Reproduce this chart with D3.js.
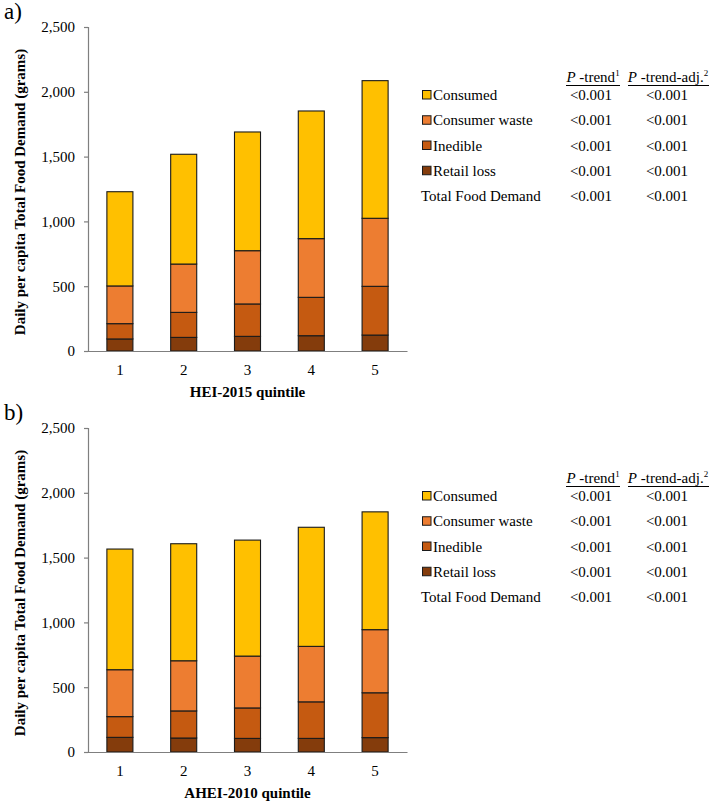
<!DOCTYPE html>
<html>
<head>
<meta charset="utf-8">
<script src="https://cdn.jsdelivr.net/npm/d3@7/dist/d3.min.js"></script>
<style>
  html, body { margin: 0; padding: 0; background: #fff; }
  svg { display: block; }
  text { font-family: "Liberation Serif", "Times New Roman", serif; fill: #000; }
</style>
</head>
<body>
<svg id="chart" width="709" height="801"></svg>
<script>
// ---- Data ----
const quintiles = ["1", "2", "3", "4", "5"];
const seriesNames = ["Retail loss", "Inedible", "Consumer waste", "Consumed"];
const legendOrder = ["Consumed", "Consumer waste", "Inedible", "Retail loss"];
const seriesColors = ["#843C0C", "#C55A11", "#ED7D31", "#FFC000"];
const yTicks = [0, 500, 1000, 1500, 2000, 2500];

// Panel a) HEI-2015 quintile
const heiRetailLoss    = [93, 105, 113, 118, 123];
const heiInedible      = [118, 193, 250, 296, 376];
const heiConsumerWaste = [291, 373, 411, 453, 525];
const heiConsumed      = [727, 847, 916, 985, 1062];

// Panel b) AHEI-2010 quintile
const aheiRetailLoss    = [113, 108, 105, 105, 111];
const aheiInedible      = [160, 209, 235, 282, 346];
const aheiConsumerWaste = [362, 387, 400, 428, 487];
const aheiConsumed      = [931, 903, 895, 919, 909];

// Legend table
const pTrendA    = ["<0.001", "<0.001", "<0.001", "<0.001", "<0.001"];
const pTrendAdjA = ["<0.001", "<0.001", "<0.001", "<0.001", "<0.001"];
const pTrendB    = ["<0.001", "<0.001", "<0.001", "<0.001", "<0.001"];
const pTrendAdjB = ["<0.001", "<0.001", "<0.001", "<0.001", "<0.001"];
const tableRows  = ["Consumed", "Consumer waste", "Inedible", "Retail loss", "Total Food Demand"];

const svg = d3.select("#chart");

function drawPanel(offsetY, panelLabel, xTitle, seriesArrays, pTrend, pTrendAdj) {
  const g = svg.append("g").attr("transform", `translate(0,${offsetY})`);
  const x0 = 88, x1 = 407, yTop = 27, yBot = 351;

  const rows = quintiles.map((q, i) => {
    const r = { q };
    seriesNames.forEach((s, k) => r[s] = seriesArrays[k][i]);
    return r;
  });
  const stacked = d3.stack().keys(seriesNames)(rows);

  const x = d3.scaleBand().domain(quintiles).range([x0, x1])
    .paddingInner(0.592).paddingOuter(0.296);
  const y = d3.scaleLinear().domain([0, 2500]).range([yBot, yTop]);

  // panel label
  g.append("text").attr("x", 4).attr("y", 19)
    .style("font-size", "23px").text(panelLabel);

  // bars
  g.selectAll("g.layer").data(stacked).join("g")
    .attr("class", "layer")
    .attr("fill", (d, i) => seriesColors[i])
    .selectAll("rect").data(d => d).join("rect")
    .attr("x", d => x(d.data.q))
    .attr("width", x.bandwidth())
    .attr("y", d => y(d[1]))
    .attr("height", d => y(d[0]) - y(d[1]))
    .attr("stroke", "#1a1a1a")
    .attr("stroke-width", 1.1);

  // y axis
  const yAxis = d3.axisLeft(y).tickValues(yTicks).tickSize(4).tickPadding(9)
    .tickFormat(d3.format(","));
  const ya = g.append("g").attr("transform", `translate(${x0},0)`).call(yAxis);
  ya.select(".domain").attr("stroke", "#7f7f7f").attr("stroke-width", 1.2);
  ya.selectAll(".tick line").attr("stroke", "#7f7f7f").attr("stroke-width", 1.2);
  ya.selectAll(".tick text").style("font-size", "15px")
    .style("font-family", "Liberation Serif").attr("fill", "#000");

  // x axis
  const xAxis = d3.axisBottom(x).tickSize(0).tickPadding(13).tickSizeOuter(0);
  const xa = g.append("g").attr("transform", `translate(0,${yBot})`).call(xAxis);
  xa.select(".domain").attr("stroke", "#7f7f7f").attr("stroke-width", 1.2);
  xa.selectAll(".tick text").style("font-size", "15px")
    .style("font-family", "Liberation Serif").attr("fill", "#000");

  // axis titles
  g.append("text").attr("x", (x0 + x1) / 2).attr("y", 397)
    .attr("text-anchor", "middle").style("font-size", "15px").style("font-weight", "bold")
    .text(xTitle);
  g.append("text")
    .attr("transform", `translate(25,${(yTop + yBot) / 2 + 3}) rotate(-90)`)
    .attr("text-anchor", "middle").style("font-size", "15px").style("font-weight", "bold")
    .text("Daily per capita Total Food Demand (grams)");

  // legend table
  const c1 = 593, c2 = 668;
  const hdrY = 82;
  const h1 = g.append("text").attr("x", c1).attr("y", hdrY).attr("text-anchor", "middle")
    .style("font-size", "15px");
  h1.append("tspan").style("font-style", "italic").text("P");
  h1.append("tspan").text(" -trend");
  h1.append("tspan").attr("dy", -6).style("font-size", "9px").text("1");
  const h2 = g.append("text").attr("x", c2).attr("y", hdrY).attr("text-anchor", "middle")
    .style("font-size", "15px");
  h2.append("tspan").style("font-style", "italic").text("P");
  h2.append("tspan").text(" -trend-adj.");
  h2.append("tspan").attr("dy", -6).style("font-size", "9px").text("2");
  g.append("line").attr("x1", 566).attr("x2", 620).attr("y1", 85.5).attr("y2", 85.5)
    .attr("stroke", "#000").attr("stroke-width", 1);
  g.append("line").attr("x1", 628).attr("x2", 709).attr("y1", 85.5).attr("y2", 85.5)
    .attr("stroke", "#000").attr("stroke-width", 1);

  const rowY = d3.scalePoint().domain(tableRows).range([100, 201]);
  tableRows.forEach((name, i) => {
    const yy = rowY(name);
    const si = seriesNames.indexOf(name);
    if (si >= 0) {
      g.append("rect").attr("x", 422.5).attr("y", yy - 9.5).attr("width", 8.5).attr("height", 8.5)
        .attr("fill", seriesColors[si]).attr("stroke", "#1a1a1a").attr("stroke-width", 1);
      g.append("text").attr("x", 433).attr("y", yy).style("font-size", "15px").text(name);
    } else {
      g.append("text").attr("x", 421).attr("y", yy).style("font-size", "15px").text(name);
    }
    g.append("text").attr("x", c1 - 2).attr("y", yy).attr("text-anchor", "middle")
      .style("font-size", "15px").text(pTrend[i]);
    g.append("text").attr("x", c2 - 1).attr("y", yy).attr("text-anchor", "middle")
      .style("font-size", "15px").text(pTrendAdj[i]);
  });
}

drawPanel(0, "a)", "HEI-2015 quintile",
  [heiRetailLoss, heiInedible, heiConsumerWaste, heiConsumed], pTrendA, pTrendAdjA);
drawPanel(401, "b)", "AHEI-2010 quintile",
  [aheiRetailLoss, aheiInedible, aheiConsumerWaste, aheiConsumed], pTrendB, pTrendAdjB);
</script>
</body>
</html>
